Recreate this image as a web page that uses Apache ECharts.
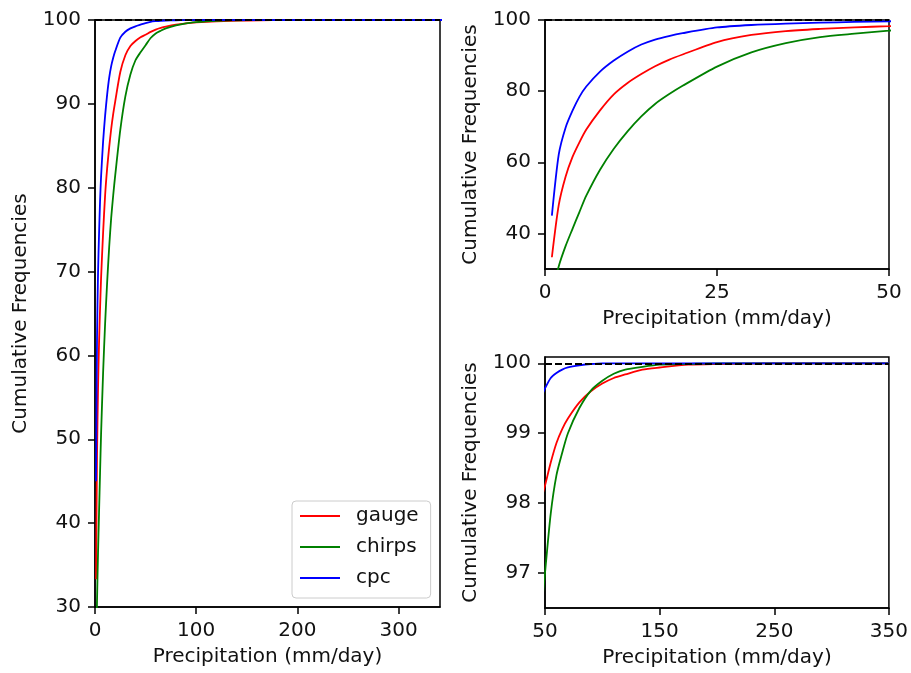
<!DOCTYPE html>
<html>
<head>
<meta charset="utf-8">
<title>Cumulative Frequencies</title>
<script src="https://cdn.jsdelivr.net/npm/echarts@6.0.0/dist/echarts.min.js"></script>
<style>
html, body { margin: 0; padding: 0; background: #fff; }
#main { width: 911px; height: 673px; }
</style>
</head>
<body>
<div id="main"></div>
<script>
// precipitation thresholds (mm/day)
var precip = [1, 2, 3, 4, 5, 6, 8, 10, 12, 14, 16, 18, 20, 25, 30, 35, 40, 45, 50,
  55, 60, 65, 70, 80, 90, 100, 110, 120, 135, 150, 175, 200, 250, 300, 350];
// cumulative frequencies (%)
var gauge = [33.3, 48, 56, 61.5, 65.6, 69.2, 74.6, 79.1, 82.3, 84.8, 87, 88.8, 90.3, 93.8, 95.8, 96.9, 97.5, 97.95, 98.25,
  98.58, 98.86, 99.06, 99.21, 99.44, 99.6, 99.71, 99.79, 99.84, 99.91, 99.94, 99.98, 99.99, 100, 100, 100];
var chirps = [23, 30.8, 36.5, 41.3, 46, 50.6, 57.9, 63.8, 68.7, 72.9, 76.4, 79.1, 81.5, 86.9, 90.9, 93.5, 95.2, 96.15, 97.0,
  97.85, 98.4, 98.72, 99.0, 99.36, 99.61, 99.75, 99.85, 99.91, 99.95, 99.98, 99.99, 100, 100, 100, 100];
var cpc = [45, 62.2, 69.8, 74.5, 78.4, 81.3, 85.5, 88.6, 91.1, 93.1, 94.5, 95.5, 96.3, 97.9, 98.6, 99.0, 99.25, 99.45, 99.64,
  99.79, 99.86, 99.91, 99.94, 99.97, 99.99, 100, 100, 100, 100, 100, 100, 100, 100, 100, 100];
var names = ['gauge', 'chirps', 'cpc'];
var colors = ['#ff0000', '#008000', '#0000ff'];

// tick labels of the three panels
var leftXTicks = [0, 100, 200, 300];
var topYTicks = [40, 60, 80, 100];
var bottomXTicks = [50, 150, 250, 350];
var bottomYTicks = [97, 98, 99, 100];

var font = 'DejaVu Sans';
var txt = {fontFamily: font, fontSize: 20, color: '#111'};

function pairs(ys) {
  return precip.map(function (x, i) { return [x, ys[i]]; });
}

function axis(opt, isY) {
  var a = {
    type: 'value',
    gridIndex: opt.grid,
    min: opt.min,
    max: opt.max,
    name: isY ? 'Cumulative Frequencies' : 'Precipitation (mm/day)',
    nameLocation: 'middle',
    nameGap: isY ? 64 : 40,
    nameTextStyle: txt,
    axisLine: {show: true, lineStyle: {color: '#000', width: 1.5}},
    axisTick: {show: true, inside: false, length: 7, lineStyle: {color: '#000', width: 1.5}},
    axisLabel: {show: true, margin: 14, fontFamily: font, fontSize: 20, color: '#111'},
    splitLine: {show: false}
  };
  if (opt.interval) a.interval = opt.interval;
  if (opt.ticks) {
    a.axisTick.customValues = opt.ticks;
    a.axisLabel.customValues = opt.ticks;
  }
  return a;
}

var grids = [
  {left: 95, top: 20, width: 345, height: 587},
  {left: 545, top: 20, width: 344, height: 249},
  {left: 545, top: 357, width: 344, height: 251}
];

var series = [];
for (var g = 0; g < 3; g++) {
  [gauge, chirps, cpc].forEach(function (ys, k) {
    var s = {
      name: names[k],
      type: 'line',
      xAxisIndex: g,
      yAxisIndex: g,
      symbol: 'none',
      smooth: 0.25,
      clip: true,
      lineStyle: {color: colors[k], width: 1.8},
      itemStyle: {color: colors[k]},
      data: pairs(ys)
    };
    if (k === 2) {
      // dashed reference line at 100 %
      s.markLine = {
        silent: true,
        symbol: 'none',
        label: {show: false},
        lineStyle: {color: '#000', type: [7, 3], width: 2},
        data: [{yAxis: 100}]
      };
    }
    series.push(s);
  });
}

var myChart = echarts.init(document.getElementById('main'));
myChart.setOption({
  animation: false,
  backgroundColor: '#fff',
  grid: grids.map(function (r) {
    return {left: r.left, top: r.top, width: r.width, height: r.height,
      show: true, borderColor: '#000', borderWidth: 1.5, backgroundColor: 'transparent'};
  }),
  xAxis: [
    axis({grid: 0, min: 0, max: 341, ticks: leftXTicks}, false),
    axis({grid: 1, min: 0, max: 50, interval: 25}, false),
    axis({grid: 2, min: 50, max: 350, ticks: bottomXTicks}, false)
  ],
  yAxis: [
    axis({grid: 0, min: 30, max: 100, interval: 10}, true),
    axis({grid: 1, min: 30, max: 100, ticks: topYTicks}, true),
    axis({grid: 2, min: 96.5, max: 100.09, ticks: bottomYTicks}, true)
  ],
  legend: {
    data: names,
    orient: 'vertical',
    left: 292,
    top: 501,
    icon: 'rect',
    itemWidth: 40,
    itemHeight: 2,
    itemGap: 11,
    padding: [5, 12, 10, 8],
    backgroundColor: 'rgba(255,255,255,0.8)',
    borderColor: '#cccccc',
    borderWidth: 1,
    borderRadius: 4,
    selectedMode: false,
    textStyle: {fontFamily: font, fontSize: 20, lineHeight: 20, color: '#111', padding: [0, 0, 0, 11]}
  },
  series: series
});
</script>
</body>
</html>
